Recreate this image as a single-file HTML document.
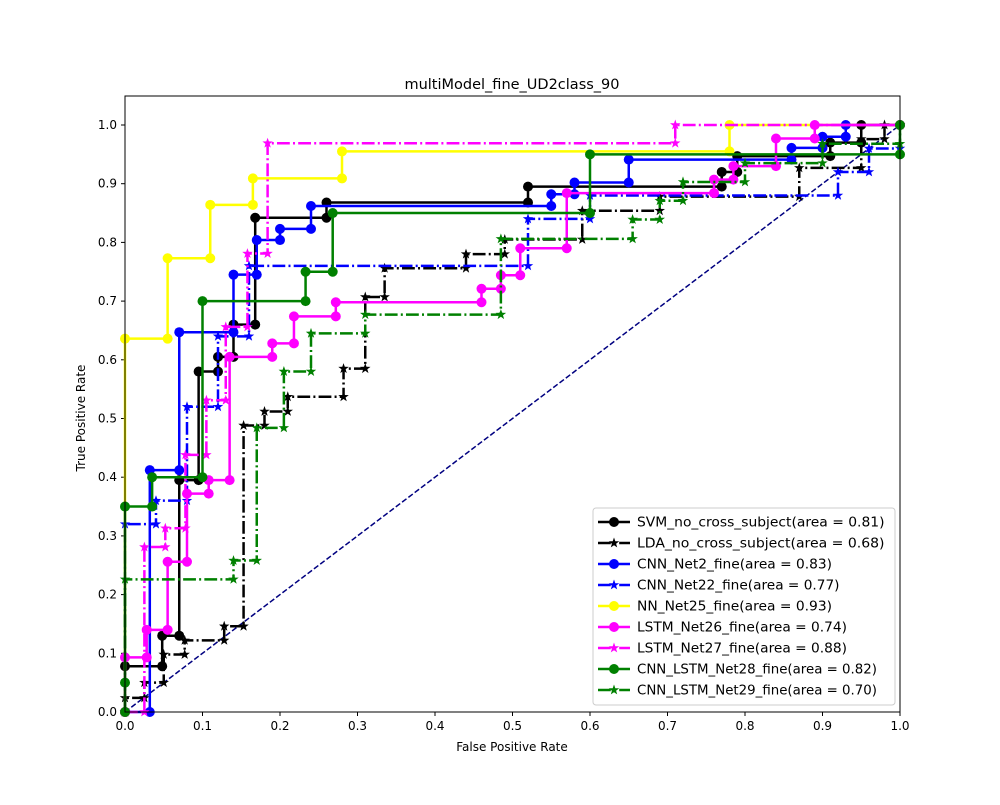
<!DOCTYPE html>
<html><head><meta charset="utf-8"><style>
body{margin:0;background:#fff;font-family:"Liberation Sans","DejaVu Sans",sans-serif}
svg text{font-family:"DejaVu Sans","Liberation Sans",sans-serif}
</style></head><body>
<svg id="c" width="1000" height="800" xmlns="http://www.w3.org/2000/svg">
<rect width="1000" height="800" fill="#fff"/>
<text x="512" y="89" font-size="14.5" text-anchor="middle">multiModel_fine_UD2class_90</text>
<text x="512" y="751" font-size="12" text-anchor="middle">False Positive Rate</text>
<text x="85" y="418" font-size="12" text-anchor="middle" transform="rotate(-90 85 418)">True Positive Rate</text>
<g id="grid"></g>
<g id="marks"></g>
<rect x="125" y="96" width="775" height="616" fill="none" stroke="#000" stroke-width="1"/>
<g id="legend"></g>
</svg>
<script>
const xTicks=[0,0.1,0.2,0.3,0.4,0.5,0.6,0.7,0.8,0.9,1.0];
const yTicks=[0,0.1,0.2,0.3,0.4,0.5,0.6,0.7,0.8,0.9,1.0];
const svmFpr=[0,0,0.048,0.048,0.07,0.07,0.095,0.095,0.12,0.12,0.14,0.14,0.168,0.168,0.26,0.26,0.52,0.52,0.77,0.77,0.79,0.79,0.91,0.91,0.95,0.95,1];
const svmTpr=[0,0.078,0.078,0.13,0.13,0.395,0.395,0.58,0.58,0.605,0.605,0.66,0.66,0.842,0.842,0.868,0.868,0.895,0.895,0.92,0.92,0.947,0.947,0.97,0.97,1,1];
const ldaFpr=[0,0,0.025,0.025,0.05,0.05,0.077,0.077,0.128,0.128,0.153,0.153,0.18,0.18,0.21,0.21,0.282,0.282,0.31,0.31,0.335,0.335,0.44,0.44,0.49,0.49,0.59,0.59,0.69,0.69,0.87,0.87,0.95,0.95,0.98,0.98,1];
const ldaTpr=[0,0.024,0.024,0.05,0.05,0.098,0.098,0.122,0.122,0.146,0.146,0.488,0.488,0.512,0.512,0.537,0.537,0.585,0.585,0.707,0.707,0.756,0.756,0.78,0.78,0.805,0.805,0.854,0.854,0.878,0.878,0.927,0.927,0.976,0.976,1,1];
const cnn2Fpr=[0,0.032,0.032,0.07,0.07,0.14,0.14,0.17,0.17,0.2,0.2,0.24,0.24,0.55,0.55,0.58,0.58,0.65,0.65,0.86,0.86,0.9,0.9,0.93,0.93,1];
const cnn2Tpr=[0,0,0.412,0.412,0.647,0.647,0.745,0.745,0.804,0.804,0.823,0.823,0.862,0.862,0.882,0.882,0.902,0.902,0.941,0.941,0.961,0.961,0.98,0.98,1,1];
const cnn22Fpr=[0,0,0.04,0.04,0.08,0.08,0.12,0.12,0.16,0.16,0.52,0.52,0.6,0.6,0.92,0.92,0.96,0.96,1];
const cnn22Tpr=[0,0.32,0.32,0.36,0.36,0.52,0.52,0.64,0.64,0.76,0.76,0.84,0.84,0.88,0.88,0.92,0.92,0.96,0.96];
const nn25Fpr=[0,0,0.055,0.055,0.11,0.11,0.165,0.165,0.28,0.28,0.78,0.78,1];
const nn25Tpr=[0,0.636,0.636,0.773,0.773,0.864,0.864,0.909,0.909,0.955,0.955,1,1];
const lstm26Fpr=[0,0,0.028,0.028,0.055,0.055,0.08,0.08,0.108,0.108,0.135,0.135,0.19,0.19,0.218,0.218,0.272,0.272,0.46,0.46,0.485,0.485,0.51,0.51,0.57,0.57,0.76,0.76,0.785,0.785,0.84,0.84,0.89,0.89,1];
const lstm26Tpr=[0,0.093,0.093,0.14,0.14,0.256,0.256,0.372,0.372,0.395,0.395,0.605,0.605,0.628,0.628,0.674,0.674,0.698,0.698,0.721,0.721,0.744,0.744,0.79,0.79,0.884,0.884,0.907,0.907,0.93,0.93,0.977,0.977,1,1];
const lstm27Fpr=[0,0.025,0.025,0.052,0.052,0.078,0.078,0.105,0.105,0.13,0.13,0.158,0.158,0.184,0.184,0.71,0.71,1];
const lstm27Tpr=[0,0,0.281,0.281,0.313,0.313,0.438,0.438,0.531,0.531,0.656,0.656,0.781,0.781,0.969,0.969,1,1];
const cl28Fpr=[0,0,0,0.035,0.035,0.1,0.1,0.233,0.233,0.268,0.268,0.6,0.6,1,1];
const cl28Tpr=[0,0.05,0.35,0.35,0.4,0.4,0.7,0.7,0.75,0.75,0.85,0.85,0.95,0.95,1];
const cl29Fpr=[0,0,0.14,0.14,0.17,0.17,0.205,0.205,0.24,0.24,0.31,0.31,0.485,0.485,0.655,0.655,0.69,0.69,0.72,0.72,0.8,0.8,0.9,0.9,1,1];
const cl29Tpr=[0,0.226,0.226,0.258,0.258,0.484,0.484,0.58,0.58,0.645,0.645,0.677,0.677,0.806,0.806,0.839,0.839,0.871,0.871,0.903,0.903,0.935,0.935,0.968,0.968,1];
const labels=["SVM_no_cross_subject(area = 0.81)","LDA_no_cross_subject(area = 0.68)","CNN_Net2_fine(area = 0.83)","CNN_Net22_fine(area = 0.77)","NN_Net25_fine(area = 0.93)","LSTM_Net26_fine(area = 0.74)","LSTM_Net27_fine(area = 0.88)","CNN_LSTM_Net28_fine(area = 0.82)","CNN_LSTM_Net29_fine(area = 0.70)"];

const NS="http://www.w3.org/2000/svg";
const X=v=>125+v*775, Y=v=>712-v*587;
function mk(tag,attrs,parent){const e=document.createElementNS(NS,tag);for(const k in attrs)e.setAttribute(k,attrs[k]);parent.appendChild(e);return e;}
const grid=document.getElementById('grid'),marks=document.getElementById('marks'),leg=document.getElementById('legend');
xTicks.forEach(t=>{
 const l=mk('line',{x1:X(t),x2:X(t),y1:712,y2:716,stroke:'#000'},grid);
 
 
 const tx=mk('text',{x:X(t),y:730,'font-size':12,'text-anchor':'middle'},grid);tx.textContent=t.toFixed(1);
 
 
});
yTicks.forEach(t=>{
 const l=mk('line',{x1:121,x2:125,y1:Y(t),y2:Y(t),stroke:'#000'},grid);
 
 
 const tx=mk('text',{x:117,y:Y(t)+4,'font-size':12,'text-anchor':'end'},grid);tx.textContent=t.toFixed(1);
 
 
});
const series=[
 [svmFpr,svmTpr,'#000',false],[ldaFpr,ldaTpr,'#000',true],
 [cnn2Fpr,cnn2Tpr,'#0000ff',false],[cnn22Fpr,cnn22Tpr,'#0000ff',true],
 [nn25Fpr,nn25Tpr,'#ffff00',false],[lstm26Fpr,lstm26Tpr,'#ff00ff',false],
 [lstm27Fpr,lstm27Tpr,'#ff00ff',true],[cl28Fpr,cl28Tpr,'#008000',false],[cl29Fpr,cl29Tpr,'#008000',true]];
const DD='12.8,3.2,2,3.2';
function star(cx,cy,r){let p=[];for(let i=0;i<10;i++){const a=-Math.PI/2+i*Math.PI/5,rr=i%2?r*0.4:r;p.push((cx+rr*Math.cos(a)).toFixed(1)+','+(cy+rr*Math.sin(a)).toFixed(1));}return p.join(' ');}
function marker(g,x,y,col,isStar){
 if(isStar){const s=mk('polygon',{points:star(x,y,5.5),fill:col},g);}
 else{const c=mk('circle',{cx:x,cy:y,r:5,fill:col},g);}
}
const diag=mk('line',{x1:X(0),y1:Y(0),x2:X(1),y2:Y(1),stroke:'#000080','stroke-width':1.5,'stroke-dasharray':'5.5,2.4'},marks);


series.forEach((s,i)=>{
 const [fx,ty,col,dash]=s;
 const g=mk('g',{},marks);
 
 
 const pts=fx.map((f,j)=>X(f)+','+Y(ty[j])).join(' ');
 const a={points:pts,fill:'none',stroke:col,'stroke-width':2.5};if(dash)a['stroke-dasharray']=DD;
 const pl=mk('polyline',a,g);
 
 
 fx.forEach((f,j)=>marker(g,X(f),Y(ty[j]),col,dash));
});
const box=mk('rect',{x:593,y:508,width:302,height:197,rx:3,fill:'#fff','fill-opacity':0.8,stroke:'#ccc'},leg);


labels.forEach((lab,i)=>{
 const s=series[i],y=522+i*21;
 const g=mk('g',{},leg);
 
 
 const a={x1:598,x2:630,y1:y,y2:y,stroke:s[2],'stroke-width':2.5};if(s[3])a['stroke-dasharray']=DD;
 mk('line',a,g);
 marker(g,614,y,s[2],s[3]);
 const t=mk('text',{x:637,y:y+4.5,'font-size':13.2,textLength:lab.length*7.5,lengthAdjust:'spacingAndGlyphs'},g);t.textContent=lab;
});
</script>
</body></html>
